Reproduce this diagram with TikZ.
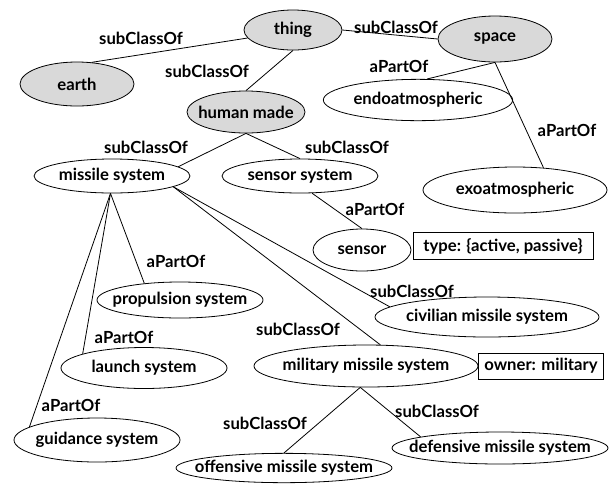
\documentclass[tikz,border=0pt]{standalone}
\usepackage{fontspec}
\setmainfont{Lato}
\usetikzlibrary{shapes.geometric}
\definecolor{classgray}{RGB}{217,217,217}

\begin{document}
\begin{tikzpicture}[x=0.75pt, y=-0.75pt,
        every node/.style={font=\bfseries\fontsize{12.5}{14}\selectfont},
        concept/.style={ellipse, draw, line width=0.6pt, inner sep=0pt,
            execute at begin node={\setbox0=\hbox\bgroup},
            execute at end node={\egroup\makebox[0pt]{\box0}}},
        topclass/.style={concept, fill=classgray},
        attr/.style={rectangle, draw, line width=0.6pt, inner sep=0pt},
        rel/.style={inner sep=0pt}]
        \useasboundingbox (0,0) rectangle (610,483);
        \node[topclass, minimum width=73.5pt, minimum height=30pt] (thing) at (293,30) {thing};
        \node[topclass, minimum width=85.5pt, minimum height=33pt] (earth) at (77,84) {earth};
        \node[topclass, minimum width=88.5pt, minimum height=31.5pt] (human) at (246,112) {human made};
        \node[topclass, minimum width=85.5pt, minimum height=34.5pt] (space) at (495,39) {space};
        \node[concept, minimum width=142pt, minimum height=31pt] (endo) at (418,100) {endoatmospheric};
        \node[concept, minimum width=138pt, minimum height=34.5pt] (exo) at (515,190) {exoatmospheric};
        \node[concept, minimum width=117pt, minimum height=25.5pt] (missile) at (112,176) {missile system};
        \node[concept, minimum width=117pt, minimum height=25.5pt] (sensorsys) at (300,176) {sensor system};
        \node[concept, minimum width=73.5pt, minimum height=31.5pt] (sensor) at (362,250) {sensor};
        \node[attr, minimum width=135pt, minimum height=20.25pt] (type) at (503,246) {type: \{active, passive\}};
        \node[concept, minimum width=124.5pt, minimum height=27pt] (propulsion) at (180,300) {propulsion system};
        \node[concept, minimum width=124.5pt, minimum height=30.75pt] (launch) at (144,368) {launch system};
        \node[concept, minimum width=124.5pt, minimum height=33pt] (guidance) at (97,440) {guidance system};
        \node[concept, minimum width=168pt, minimum height=30pt] (civilian) at (487,317) {civilian missile system};
        \node[concept, minimum width=168pt, minimum height=31.5pt] (military) at (366,366) {military missile system};
        \node[attr, minimum width=93.75pt, minimum height=19.5pt] (owner) at (541,366) {owner: military};
        \node[concept, minimum width=162pt, minimum height=22pt] (offensive) at (284,468) {offensive missile system};
        \node[concept, minimum width=162pt, minimum height=24pt] (defensive) at (500,448) {defensive missile system};

        \draw[line width=0.6pt] (thing.190) -- (earth.56);
        \draw[line width=0.6pt] (thing.south) -- (human.north);
        \draw[line width=0.6pt] (thing.east) -- (space.west);
        \draw[line width=0.6pt] (space.south) -- (endo.67);
        \draw[line width=0.6pt] (space.south) -- (exo.38);
        \draw[line width=0.6pt] (human.south) -- (missile.8);
        \draw[line width=0.6pt] (human.south) -- (sensorsys.north);
        \draw[line width=0.6pt] (sensorsys.305) -- (sensor.north);
        \draw[line width=0.6pt] (missile.265) -- (propulsion.155);
        \draw[line width=0.6pt] (missile.265) -- (launch.167);
        \draw[line width=0.6pt] (missile.265) -- (guidance.169);
        \draw[line width=0.6pt] (missile.350) -- (civilian.174);
        \draw[line width=0.6pt] (missile.350) -- (military.56);
        \draw[line width=0.6pt] (military.255) -- (offensive.north);
        \draw[line width=0.6pt] (military.255) -- (defensive.172);

        \node[rel] (l-earth) at (141,38) {subClassOf};
        \node[rel] (l-human) at (207,71) {subClassOf};
        \node[rel] (l-space) at (396,27) {subClassOf};
        \node[rel] (l-endo) at (399,66) {aPartOf};
        \node[rel] (l-exo) at (567,130) {aPartOf};
        \node[rel] (l-missile) at (146,147) {subClassOf};
        \node[rel] (l-sensorsys) at (347,147) {subClassOf};
        \node[rel] (l-sensor) at (375,209) {aPartOf};
        \node[rel] (l-propulsion) at (176,261) {aPartOf};
        \node[rel] (l-launch) at (124,337) {aPartOf};
        \node[rel] (l-guidance) at (71,405) {aPartOf};
        \node[rel] (l-civilian) at (412,291) {subClassOf};
        \node[rel] (l-military) at (298,329) {subClassOf};
        \node[rel] (l-offensive) at (265,423) {subClassOf};
        \node[rel] (l-defensive) at (437,411) {subClassOf};
    \end{tikzpicture}
\end{document}
